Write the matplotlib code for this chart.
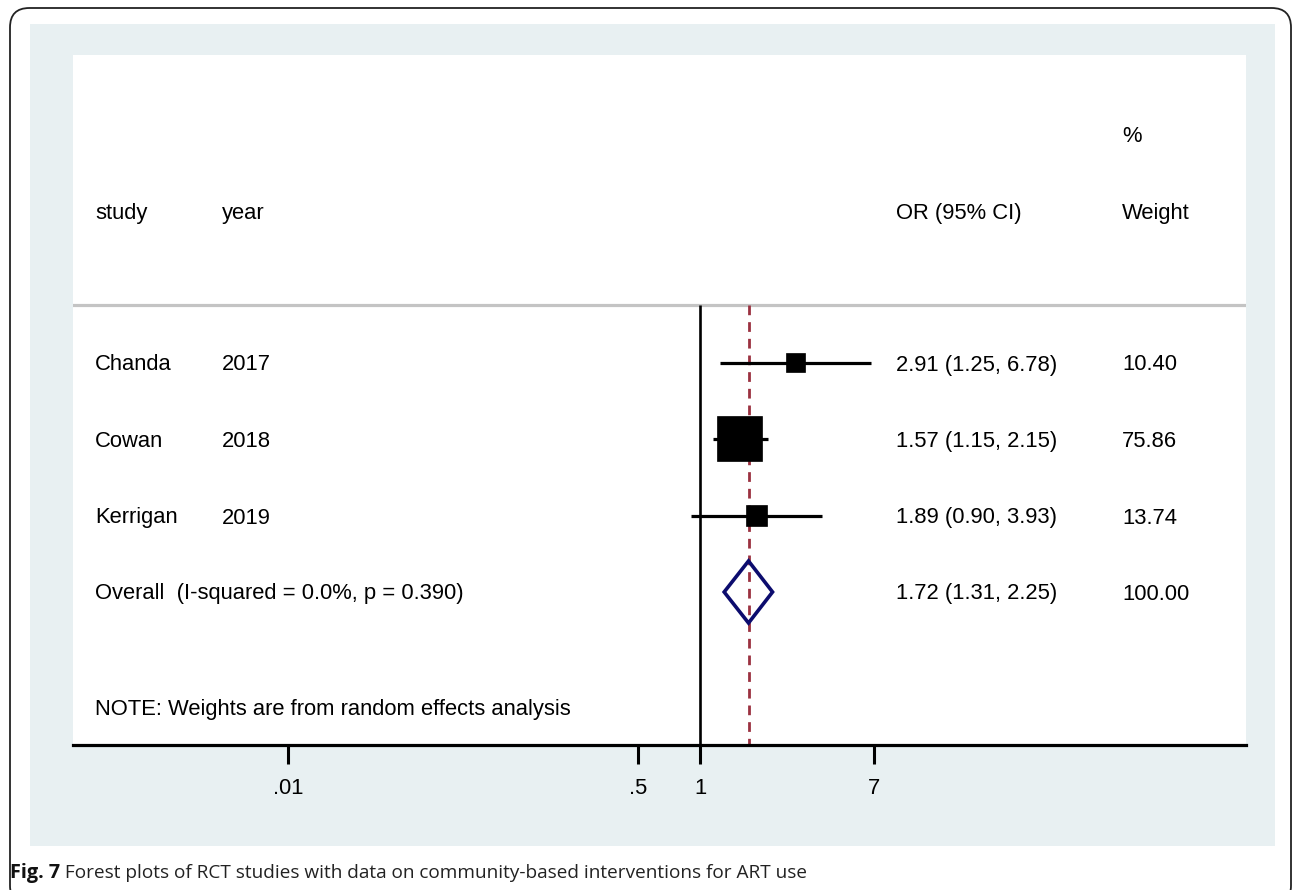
import matplotlib
matplotlib.use("Agg")
import matplotlib.pyplot as plt
from matplotlib.patches import FancyBboxPatch, Rectangle, Polygon
from matplotlib.markers import MarkerStyle
import numpy as np

# ---------------- data ----------------
studies = ["Chanda", "Cowan", "Kerrigan"]
years = ["2017", "2018", "2019"]
or_est = [2.91, 1.57, 1.89]
ci_low = [1.25, 1.15, 0.90]
ci_high = [6.78, 2.15, 3.93]
weights = [10.40, 75.86, 13.74]
overall_est = 1.72
overall_low = 1.31
overall_high = 2.25
overall_weight = 100.00
overall_label = "Overall  (I-squared = 0.0%, p = 0.390)"
note = "NOTE: Weights are from random effects analysis"
tick_values = [0.01, 0.5, 1, 7]
tick_labels = [".01", ".5", "1", "7"]
caption_bold = "Fig. 7"
caption_text = " Forest plots of RCT studies with data on community-based interventions for ART use"

# ---------------- layout (pixels) ----------------
W, H = 1292, 890
DPI = 100
fig = plt.figure(figsize=(W / DPI, H / DPI), dpi=DPI)
fig.patch.set_facecolor("white")

def fx(px):
    return px / W

def fy(py):
    return 1 - py / H

FONT = "Liberation Sans"
FS = 15.8

# outer rounded border (cut off at right/bottom)
border = FancyBboxPatch((fx(10), fy(905)), fx(1281), (905 - 8) / H,
                        boxstyle="round,pad=0,rounding_size=0.015",
                        transform=fig.transFigure, fill=False,
                        edgecolor="#222222", linewidth=1.3, mutation_aspect=W / H,
                        zorder=-2)
fig.patches.append(border)

# light background panel
fig.patches.append(Rectangle((fx(30), fy(846)), fx(1275 - 30), (846 - 24) / H,
                             transform=fig.transFigure, facecolor="#e8f0f2",
                             edgecolor="none", zorder=-1))

# plot area
ax_left, ax_right, ax_top, ax_bottom = 73, 1246, 55, 745
ax = fig.add_axes([fx(ax_left), fy(ax_bottom), fx(ax_right - ax_left), (ax_bottom - ax_top) / H])
ax.set_zorder(1)
ax.set_facecolor("white")
ax.set_xscale("log")
px_per_decade = 206.0
x1_px = 700.0
ax.set_xlim(10 ** ((ax_left - x1_px) / px_per_decade), 10 ** ((ax_right - x1_px) / px_per_decade))
ax.set_ylim(ax_bottom, ax_top)

for s in ["top", "left", "right"]:
    ax.spines[s].set_visible(False)
ax.spines["bottom"].set_linewidth(2.3)
ax.spines["bottom"].set_color("black")
ax.set_yticks([])
ax.set_xticks(tick_values)
ax.set_xticklabels(tick_labels)
ax.minorticks_off()
ax.tick_params(axis="x", which="major", direction="out", length=14, width=2.2,
               color="black", pad=10, labelsize=FS)
for lab in ax.get_xticklabels():
    lab.set_fontfamily(FONT)

# row positions (pixel rows)
row_y = [363, 439, 516]
overall_y = 592
header_line_y = 305

# grey header separator
ax.axhline(header_line_y, color="#c4c4c4", linewidth=2.3, zorder=1)

# null line
ax.plot([1, 1], [header_line_y, ax_bottom], color="black", linewidth=1.9, zorder=2,
        solid_capstyle="butt")

# overall dashed line
ax.plot([overall_est, overall_est], [header_line_y, ax_bottom], color="#9b3140",
        linewidth=2.0, linestyle=(0, (3.5, 2.5)), zorder=2)

# study CIs and squares (square area proportional to weight, plus outline)
sq_marker = MarkerStyle("s", joinstyle="miter")
for y, est, lo, hi, w in zip(row_y, or_est, ci_low, ci_high, weights):
    ax.plot([lo, hi], [y, y], color="black", linewidth=2.3, zorder=3, solid_capstyle="butt")
    side_pt = 3.41 * np.sqrt(w)
    ax.plot([est], [y], linestyle="none", marker=sq_marker, markersize=side_pt,
            markerfacecolor="black", markeredgecolor="black", markeredgewidth=2.66,
            zorder=4)

# overall diamond
dia = Polygon([(overall_low, overall_y), (overall_est, overall_y - 31),
               (overall_high, overall_y), (overall_est, overall_y + 31)],
              closed=True, fill=False, edgecolor="#0c0c6e", linewidth=2.6, zorder=5,
              joinstyle="miter")
ax.add_patch(dia)

# ---------------- text ----------------
def ptext(x, y, s, **kw):
    fig.text(fx(x), fy(y + 2), s, ha="left", va="center", fontsize=FS, family=FONT,
             color="black", zorder=3, **kw)

ptext(1122, 135, "%")
ptext(95, 211, "study")
ptext(222, 211, "year")
ptext(896, 211, "OR (95% CI)")
ptext(1122, 211, "Weight")

for y, name, yr, est, lo, hi, w in zip(row_y, studies, years, or_est, ci_low, ci_high, weights):
    ptext(95, y, name)
    ptext(222, y, yr)
    ptext(896, y, f"{est:.2f} ({lo:.2f}, {hi:.2f})")
    ptext(1122, y, f"{w:.2f}")

ptext(95, overall_y, overall_label)
ptext(896, overall_y, f"{overall_est:.2f} ({overall_low:.2f}, {overall_high:.2f})")
ptext(1122, overall_y, f"{overall_weight:.2f}")
ptext(95, 707, note)

# caption
t1 = fig.text(fx(10), fy(873), caption_bold, ha="left", va="center", fontsize=14.3,
              family="Open Sans", weight="bold", color="#111111")
fig.canvas.draw()
bb = t1.get_window_extent()
fig.text(bb.x1 / W, fy(873), caption_text, ha="left", va="center", fontsize=13.7,
         family="Open Sans", color="#222222")

fig.savefig("out.png", dpi=DPI)
